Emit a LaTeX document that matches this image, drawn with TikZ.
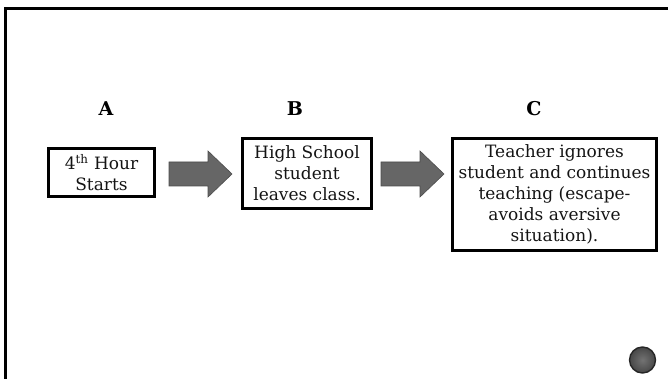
\documentclass[tikz,border=0pt]{standalone}
\usepackage{fontspec}
\setmainfont{DejaVu Serif}
\usetikzlibrary{calc}
\begin{document}
\begin{tikzpicture}[x=1pt,y=-1pt,
  stepbox/.style={draw=black,line width=3pt,fill=white,align=center,
    inner sep=0pt,font=\fontsize{17}{21}\selectfont,text=black!92},
  steplabel/.style={font=\fontsize{19}{21}\selectfont\bfseries,text=black},
  blockarrow/.style={fill=black!60,draw=black!70,line width=0.6pt},
  frameline/.style={draw=black,line width=2.6pt}]
\useasboundingbox (0,0) rectangle (668,379);
% slide frame
\draw[frameline] (5.3,381) -- (5.3,8.3) -- (670,8.3);
% column headings
\node[steplabel] (la) at (106,109) {A};
\node[steplabel] (lb) at (295,109) {B};
\node[steplabel] (lc) at (534,109) {C};
% antecedent, behaviour, consequence
\node[stepbox,minimum width=106pt,minimum height=48pt] (a) at (101.5,172.5)
  {4\textsuperscript{th} Hour\\Starts};
\node[stepbox,minimum width=129pt,minimum height=69pt] (b) at (307,173.5)
  {High School\\student\\leaves class.};
\node[stepbox,minimum width=204pt,minimum height=112pt] (c) at (554.5,194.5)
  {Teacher ignores\\student and continues\\teaching (escape-\\avoids aversive\\situation).};
% block arrows between the boxes
\coordinate (p1) at (169,174);
\coordinate (p2) at (381,174);
\foreach \p in {p1,p2}
  \draw[blockarrow] ($(\p)+(0,-12)$) -- ++(39,0) -- ++(0,-11)
    -- ++(24,23) -- ++(-24,23) -- ++(0,-11) -- ++(-39,0) -- cycle;
% page marker
\node[circle,minimum size=26pt,inner sep=0pt,draw=black!85,line width=1.4pt,
  shading=radial,inner color=black!55,outer color=black!72] (dot) at (642.5,360) {};
\end{tikzpicture}
\end{document}
